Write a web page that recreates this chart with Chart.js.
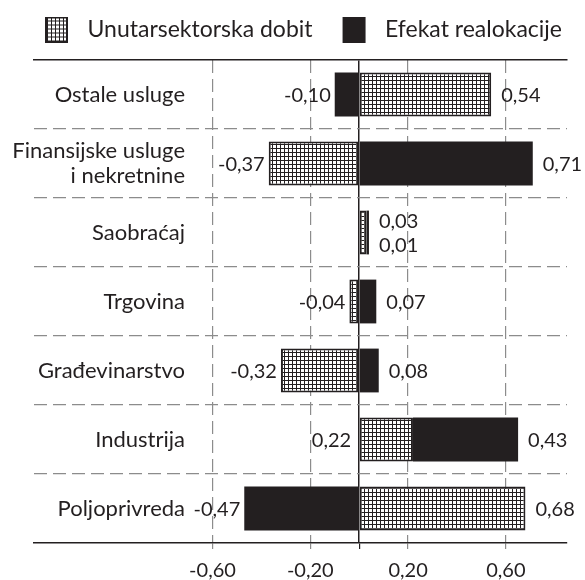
<!DOCTYPE html>
<html lang="sr">
<head>
<meta charset="UTF-8">
<title>Unutarsektorska dobit i efekat realokacije po sektorima</title>
<script src="https://cdn.jsdelivr.net/npm/chart.js@4.4.1/dist/chart.umd.min.js"></script>
<style>
  body { margin: 0; background: #fff; }
  canvas { display: block; }
</style>
</head>
<body>
<canvas id="chart" width="585" height="580"></canvas>
<script>
// podaci
const categories = ['Ostale usluge', ['Finansijske usluge', 'i nekretnine'], 'Saobraćaj', 'Trgovina', 'Građevinarstvo', 'Industrija', 'Poljoprivreda'];
const seriesNames = ['Unutarsektorska dobit', 'Efekat realokacije'];
const withinGain = [0.54, -0.37, 0.03, -0.04, -0.32, 0.22, 0.68];
const reallocation = [-0.10, 0.71, 0.01, 0.07, 0.08, 0.43, -0.47];
const xTicks = [-0.60, -0.20, 0, 0.20, 0.60];

const ink = '#231f20';
const gray = '#8c8c8c';
const family = 'Lato';
const catSize = 22, valSize = 20, legendSize = 23;
const xMin = -1.33, xMax = 0.85;

const fmt = v => v.toFixed(2).replace('.', ',');

// hatch pattern (white cells, dark grid)
const tile = document.createElement('canvas');
tile.width = tile.height = 4;
const tg = tile.getContext('2d');
tg.fillStyle = '#fff'; tg.fillRect(0, 0, 4, 4);
tg.fillStyle = ink; tg.fillRect(0, 0, 4, 1); tg.fillRect(0, 0, 1, 4);
const hatch = tg.createPattern(tile, 'repeat');

// legend swatch: 22px blank before the box, a little after it
function swatch(fill, outlined) {
    const c = document.createElement('canvas');
    c.width = 53; c.height = 26;
    const g = c.getContext('2d');
    g.fillStyle = fill;
    g.fillRect(22, 0, 23, 26);
    if (outlined) { g.strokeStyle = ink; g.lineWidth = 2; g.strokeRect(23, 1, 21, 24); }
    return c;
}

// right edge of category labels sits at x=185
const meas = document.createElement('canvas').getContext('2d');
meas.font = `${catSize}px ${family}`;
const widest = Math.max(...categories.flat().map(s => meas.measureText(s).width));
const labelPad = 185 - 34 - widest;

const valueLabels = {
    id: 'valueLabels',
    afterDatasetsDraw(chart) {
        const ctx = chart.ctx;
        const zero = chart.scales.x.getPixelForValue(0);
        const inner = chart.getDatasetMeta(0).data;
        const outer = chart.getDatasetMeta(1).data;
        ctx.save();
        ctx.font = `${valSize}px ${family}`;
        ctx.fillStyle = ink;
        ctx.textBaseline = 'middle';
        const atEnd = (v, el, dy) => {
            ctx.textAlign = v < 0 ? 'right' : 'left';
            ctx.fillText(fmt(v), v < 0 ? el.x - 4 : el.x + 10, el.y + 1 + dy);
        };
        categories.forEach((c, i) => {
            const a = withinGain[i], b = reallocation[i];
            if (a * b > 0) {
                const w = Math.abs(inner[i].x - inner[i].base);
                if (w > 30) {
                    atEnd(b, outer[i], 0);
                    ctx.textAlign = a > 0 ? 'right' : 'left';
                    ctx.fillText(fmt(a), a > 0 ? zero - 8 : zero + 8, inner[i].y + 1);
                } else {
                    atEnd(a, outer[i], -12);
                    atEnd(b, outer[i], 12);
                }
            } else {
                atEnd(a, inner[i], 0);
                atEnd(b, outer[i], 0);
            }
        });
        ctx.restore();
    }
};

Chart.defaults.font.family = family;
Chart.defaults.color = ink;

new Chart(document.getElementById('chart'), {
    type: 'bar',
    data: {
        labels: categories,
        datasets: [{
            label: seriesNames[0],
            data: withinGain,
            backgroundColor: hatch,
            borderColor: ink,
            borderWidth: 2,
            borderSkipped: false,
            pointStyle: swatch(hatch, true)
        }, {
            label: seriesNames[1],
            data: reallocation,
            backgroundColor: ink,
            borderWidth: 0,
            pointStyle: swatch(ink, false)
        }]
    },
    options: {
        indexAxis: 'y',
        responsive: false,
        animation: false,
        layout: { padding: { top: 10, left: 0, right: 0, bottom: 0 } },
        datasets: { bar: { categoryPercentage: 1, barPercentage: 0.635 } },
        plugins: {
            legend: {
                labels: {
                    usePointStyle: true,
                    pointStyleWidth: 53,
                    padding: 8,
                    color: ink,
                    font: { family, size: legendSize }
                }
            },
            tooltip: { enabled: false }
        },
        scales: {
            x: {
                type: 'linear',
                stacked: true,
                min: xMin,
                max: xMax,
                afterBuildTicks: s => { s.ticks = xTicks.map(v => ({ value: v })); },
                afterFit: s => { s.height = 37; },
                grid: {
                    color: c => c.tick && c.tick.value === 0 ? 'rgba(0,0,0,0)' : gray,
                    tickColor: c => c.tick && c.tick.value === 0 ? ink : gray,
                    lineWidth: 1.2,
                    tickLength: 6
                },
                border: { color: ink, width: 1.5, dash: [13, 6] },
                ticks: {
                    padding: 12,
                    color: ink,
                    font: { family, size: valSize, lineHeight: 1 },
                    callback: v => v === 0 ? '' : fmt(v)
                }
            },
            x2: {
                type: 'linear',
                position: 'top',
                min: xMin,
                max: xMax,
                afterBuildTicks: s => { s.ticks = [{ value: 0 }]; },
                ticks: { display: false },
                grid: { color: ink, lineWidth: 1.5, tickLength: 9, tickColor: 'rgba(0,0,0,0)' },
                border: { color: ink, width: 1.5 }
            },
            y: {
                stacked: true,
                afterFit: s => { s.width = 34; },
                grid: {
                    color: c => c.index > 0 ? gray : 'rgba(0,0,0,0)',
                    lineWidth: 1.2,
                    drawTicks: false
                },
                border: { display: false, dash: [13, 6] },
                ticks: {
                    mirror: true,
                    crossAlign: 'far',
                    padding: labelPad,
                    color: ink,
                    font: { family, size: catSize, lineHeight: 1.15 }
                }
            },
            // empty strip on the right so the plot ends at x=567
            yRight: {
                type: 'category',
                position: 'right',
                afterFit: s => { s.width = 18; },
                grid: { display: false },
                border: { display: false },
                ticks: { display: false }
            }
        }
    },
    plugins: [valueLabels]
});
</script>
</body>
</html>
